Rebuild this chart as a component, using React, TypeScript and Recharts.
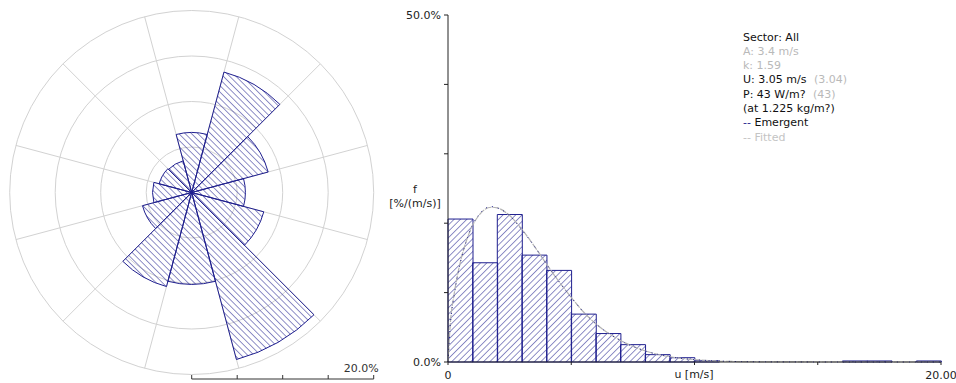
import {
  Bar,
  ComposedChart,
  Line,
  LineChart,
  PolarAngleAxis,
  PolarGrid,
  PolarRadiusAxis,
  RadialBar,
  RadialBarChart,
  XAxis,
  YAxis,
} from 'recharts'

// wind rose: 12 sectors of 30 deg, frequency in %
const sectorLabels = ['N', 'NNE', 'ENE', 'E', 'ESE', 'SSE', 'S', 'SSW', 'WSW', 'W', 'WNW', 'NNW']
const sectorFrequency = [6.6, 13.7, 8.7, 5.9, 8.2, 19.0, 10.1, 10.7, 5.6, 4.3, 3.7, 3.6]
const roseRings = [5, 10, 15, 20]
const roseMax = 20

// histogram: 1 m/s bins, f in %/(m/s)
const speedBins = ['0', '1', '2', '3', '4', '5', '6', '7', '8', '9', '10', '11', '12', '13', '14', '15', '16', '17', '18', '19']
const binFrequency = [20.6, 14.3, 21.25, 15.4, 13.2, 6.9, 4.1, 2.5, 1.06, 0.62, 0.2, 0, 0, 0, 0, 0, 0.15, 0.15, 0, 0.15]

// curves
const curveSpeeds = [0, 0.1, 0.25, 0.5, 0.75, 1, 1.25, 1.5, 1.75, 2, 2.5, 3, 3.5, 4, 4.5, 5, 5.5, 6, 7, 8, 9, 10, 11, 12, 14, 16, 18, 20]
const fittedFrequency = [0, 5.8, 9.8, 14.4, 17.5, 19.7, 21.1, 22.0, 22.3, 22.2, 21.1, 19.1, 16.7, 14.1, 11.6, 9.3, 7.2, 5.5, 3.1, 1.6, 0.76, 0.34, 0.14, 0.05, 0.01, 0, 0, 0]
const emergentFrequency = [0, 5.6, 9.6, 14.3, 17.5, 19.8, 21.2, 22.1, 22.4, 22.2, 21.1, 19.0, 16.7, 14.1, 11.6, 9.3, 7.2, 5.5, 3.1, 1.6, 0.76, 0.34, 0.14, 0.05, 0.01, 0, 0, 0]

const yTicks = [0, 10, 20, 30, 40, 50]
const xTicks = [0, 5, 10, 15, 20]
const scaleTicks = [0, 5, 10, 15, 20]

const NAVY = '#1f1f8f'
const FONT = '"DejaVu Sans", Verdana, sans-serif'
const HATCH = 4.5

const roseData = sectorLabels.map((dir, i) => ({ dir, freq: sectorFrequency[i] }))
const histData = speedBins.map((bin, i) => ({ bin, f: binFrequency[i] }))
const curveData = curveSpeeds.map((u, i) => ({ u, fit: fittedFrequency[i], emergent: emergentFrequency[i] }))
const scaleData = scaleTicks.map((v) => ({ v }))

const ROSE_R = 182
const ROSE_START = 75 // first band runs 75..105 deg, i.e. north sector
const spokeAngles = sectorLabels.map((_, i) => ROSE_START - i * 30)
const ringRadii = roseRings.map((r) => (r / roseMax) * ROSE_R)

const yTickLabel = (v: number) => (v === 0 || v === 50 ? `${v.toFixed(1)}%` : '')
const xTickLabel = (v: number) => (v === 0 ? '0' : v === 20 ? '20.00' : '')

function ScaleTick({ x, y, payload }: { x?: number; y?: number; payload?: { value: number } }) {
  if (!payload || payload.value !== roseMax) return null
  return (
    <text x={(x ?? 0) + 5} y={(y ?? 0) - 1} textAnchor="end" fontSize={11} fontFamily={FONT} fill="#333">
      {`${roseMax.toFixed(1)}%`}
    </text>
  )
}

function SpeedTick({ x, y, payload }: { x?: number; y?: number; payload?: { value: number } }) {
  const label = payload ? xTickLabel(payload.value) : ''
  if (!label) return null
  return (
    <text x={x} y={y} dy={13} textAnchor="middle" fontSize={11} fontFamily={FONT} fill="#222">
      {label}
    </text>
  )
}

function Legend() {
  const grey = '#b9b9b9'
  const row = { height: 14.3, whiteSpace: 'nowrap' as const }
  return (
    <div style={{ position: 'absolute', left: 743, top: 30.5, fontFamily: FONT, fontSize: 11, lineHeight: '14.3px', color: '#111' }}>
      <div style={row}>Sector: All</div>
      <div style={{ ...row, color: grey }}>A: 3.4 m/s</div>
      <div style={{ ...row, color: grey }}>k: 1.59</div>
      <div style={row}>
        U: 3.05 m/s <span style={{ color: grey, marginLeft: 4 }}>(3.04)</span>
      </div>
      <div style={row}>
        P: 43 W/m? <span style={{ color: grey, marginLeft: 4 }}>(43)</span>
      </div>
      <div style={row}>(at 1.225 kg/m?)</div>
      <div style={row}>
        <span style={{ color: NAVY }}>--</span> Emergent
      </div>
      <div style={{ ...row, color: '#c4c4c4' }}>-- Fitted</div>
    </div>
  )
}

export default function App() {
  return (
    <div style={{ position: 'absolute', left: 0, top: 0, width: 956, height: 383, background: '#fff', overflow: 'hidden' }}>
      <div style={{ position: 'absolute', left: 0, top: 0 }}>
        <RadialBarChart
          width={384}
          height={383}
          cx={191.7}
          cy={192.5}
          innerRadius={0}
          outerRadius={ROSE_R}
          startAngle={ROSE_START}
          endAngle={ROSE_START - 360}
          data={roseData}
          layout="centric"
          barCategoryGap={0}
          margin={{ top: 0, right: 0, bottom: 0, left: 0 }}
        >
          <defs>
            <pattern id="roseHatch" patternUnits="userSpaceOnUse" width={HATCH} height={HATCH} patternTransform="rotate(-45)">
              <line x1={0} y1={0} x2={0} y2={HATCH} stroke={NAVY} strokeWidth={1} />
            </pattern>
          </defs>
          <PolarGrid gridType="circle" polarAngles={spokeAngles} polarRadius={ringRadii} stroke="#d2d2d2" />
          <PolarAngleAxis type="category" dataKey="dir" tick={false} axisLine={false} tickLine={false} />
          <PolarRadiusAxis type="number" domain={[0, roseMax]} tick={false} axisLine={false} tickLine={false} />
          <RadialBar dataKey="freq" fill="url(#roseHatch)" stroke={NAVY} strokeWidth={1} isAnimationActive={false} />
        </RadialBarChart>
      </div>

      <div style={{ position: 'absolute', left: 180, top: 360 }}>
        <LineChart width={210} height={23} data={scaleData} margin={{ top: 0, right: 16.3, bottom: 0, left: 11.7 }}>
          <XAxis
            dataKey="v"
            type="number"
            domain={[0, roseMax]}
            ticks={scaleTicks}
            interval={0}
            orientation="top"
            height={19}
            tickSize={4}
            stroke="#333"
            tick={<ScaleTick />}
          />
          <YAxis hide />
        </LineChart>
      </div>

      <div style={{ position: 'absolute', left: 380, top: 0 }}>
        <ComposedChart width={576} height={383} data={histData} barCategoryGap={0} barGap={0} margin={{ top: 15, right: 15, bottom: 0, left: 0 }}>
          <defs>
            <pattern id="histHatch" patternUnits="userSpaceOnUse" width={HATCH} height={HATCH} patternTransform="rotate(45)">
              <line x1={0} y1={0} x2={0} y2={HATCH} stroke={NAVY} strokeWidth={1} />
            </pattern>
          </defs>
          <XAxis
            xAxisId="speed"
            dataKey="u"
            type="number"
            domain={[0, 20]}
            ticks={xTicks}
            interval={0}
            height={21}
            tickSize={3}
            tickMargin={1}
            stroke="#222"
            tick={<SpeedTick />}
          />
          <XAxis xAxisId="bins" dataKey="bin" type="category" hide height={0} />
          <YAxis
            type="number"
            domain={[0, 50]}
            ticks={yTicks}
            interval={0}
            width={68}
            tickSize={4}
            tickMargin={3}
            stroke="#222"
            tick={{ fill: '#222', fontSize: 11, fontFamily: FONT }}
            tickFormatter={yTickLabel}
          />
          <Bar xAxisId="bins" dataKey="f" fill="url(#histHatch)" stroke={NAVY} strokeWidth={1} isAnimationActive={false} />
          <Line
            xAxisId="speed"
            data={curveData}
            dataKey="fit"
            type="monotone"
            stroke="#b4b4b4"
            strokeWidth={1.2}
            strokeDasharray="7 1"
            dot={false}
            isAnimationActive={false}
          />
          <Line
            xAxisId="speed"
            data={curveData}
            dataKey="emergent"
            type="monotone"
            stroke={NAVY}
            strokeWidth={1}
            strokeDasharray="1 5"
            dot={false}
            isAnimationActive={false}
          />
        </ComposedChart>
      </div>

      <div style={{ position: 'absolute', left: 374, top: 182.5, width: 82, textAlign: 'center', fontFamily: FONT, fontSize: 11, lineHeight: '14px', color: '#222' }}>
        <div>f</div>
        <div>[%/(m/s)]</div>
      </div>
      <div style={{ position: 'absolute', left: 634, top: 368, width: 120, textAlign: 'center', fontFamily: FONT, fontSize: 11, lineHeight: '14px', color: '#222' }}>
        u [m/s]
      </div>
      <Legend />
    </div>
  )
}
